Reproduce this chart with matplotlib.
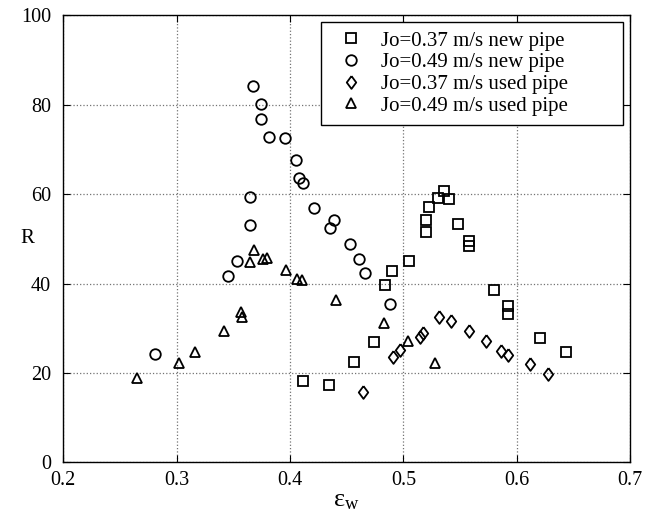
import matplotlib
matplotlib.use("Agg")
import matplotlib.pyplot as plt

# ---- data ----
new37_x = [0.4112, 0.4347, 0.4568, 0.4741, 0.4838, 0.4903, 0.5053, 0.5198, 0.5198, 0.5222,
           0.5306, 0.5356, 0.5406, 0.5486, 0.5580, 0.5580, 0.5800, 0.5927, 0.5927, 0.6204, 0.6433]
new37_R = [18.3, 17.3, 22.5, 26.9, 39.7, 42.8, 45.1, 51.5, 54.3, 57.0,
           59.2, 60.7, 58.9, 53.2, 49.5, 48.3, 38.5, 35.0, 33.2, 27.9, 24.8]

new49_x = [0.2810, 0.3450, 0.3530, 0.3647, 0.3647, 0.3676, 0.3747, 0.3747, 0.3817, 0.3953,
           0.4050, 0.4080, 0.4117, 0.4209, 0.4356, 0.4391, 0.4527, 0.4606, 0.4660, 0.4883]
new49_R = [24.2, 41.7, 45.0, 53.1, 59.4, 84.1, 80.2, 76.7, 72.7, 72.6,
           67.5, 63.6, 62.5, 56.9, 52.3, 54.2, 48.8, 45.4, 42.3, 35.4]

used37_x = [0.4642, 0.4912, 0.4971, 0.5147, 0.5177, 0.5318, 0.5421, 0.5580, 0.5730, 0.5862,
            0.5927, 0.6118, 0.6277]
used37_R = [15.8, 23.5, 25.1, 28.0, 28.9, 32.6, 31.6, 29.3, 27.1, 25.0,
            24.0, 21.9, 19.8]

used49_x = [0.2652, 0.3023, 0.3162, 0.3414, 0.3570, 0.3574, 0.3647, 0.3685, 0.3765, 0.3800,
            0.3962, 0.4065, 0.4103, 0.4406, 0.4832, 0.5045, 0.5283]
used49_R = [18.8, 22.2, 24.7, 29.4, 33.6, 32.6, 44.9, 47.5, 45.4, 45.7,
            43.1, 40.9, 40.8, 36.3, 31.1, 27.2, 22.3]

labels = ["Jo=0.37 m/s new pipe", "Jo=0.49 m/s new pipe",
          "Jo=0.37 m/s used pipe", "Jo=0.49 m/s used pipe"]

plt.rcParams["font.family"] = ["Liberation Serif", "DejaVu Serif"]
plt.rcParams["mathtext.fontset"] = "custom"
plt.rcParams["mathtext.rm"] = "Liberation Serif"

fig = plt.figure(figsize=(6.52, 5.16), dpi=100)
ax = fig.add_axes([0.0972, 0.1037, 0.8691, 0.8672])

# diamond a bit narrower than tall, like the original
diamond = [(0, 1), (0.74, 0), (0, -1), (-0.74, 0), (0, 1)]

common = dict(linestyle="none", markerfacecolor="none", markeredgecolor="black",
              markeredgewidth=1.3)
ax.plot(new37_x, new37_R, marker="s", markersize=6.8, label=labels[0], **common)
ax.plot(new49_x, new49_R, marker="o", markersize=7.6, label=labels[1], **common)
ax.plot(used37_x, used37_R, marker=diamond, markersize=9.2, label=labels[2], **common)
ax.plot(used49_x, used49_R, marker="^", markersize=7.8, label=labels[3], **common)

ax.set_xlim(0.2, 0.7)
ax.set_ylim(0, 100)
ax.set_xticks([0.2, 0.3, 0.4, 0.5, 0.6, 0.7])
ax.set_yticks([0, 20, 40, 60, 80, 100])
ax.set_xticklabels(["0.2", "0.3", "0.4", "0.5", "0.6", "0.7"])
ax.grid(True, linestyle=":", color="0.45", linewidth=0.9)
ax.tick_params(direction="in", top=True, right=True, length=5, width=0.8,
               labelsize=14.5)
ax.tick_params(axis="x", pad=6)
ax.tick_params(axis="y", pad=9)
for s in ax.spines.values():
    s.set_linewidth(1.0)

ax.set_xlabel(r"$\mathregular{ε_w}$", fontsize=19, labelpad=0)
ax.set_ylabel("R", fontsize=15, rotation=0, va="center", ha="center")
ax.yaxis.set_label_coords(-0.064, 0.5)

leg = ax.legend(loc="upper left", bbox_to_anchor=(0.454, 0.768, 0.534, 0.217),
                mode="expand", fontsize=15, frameon=True, fancybox=False,
                edgecolor="black", framealpha=1, borderpad=0.45, labelspacing=0.1,
                handlelength=2.0, handletextpad=0.45, borderaxespad=0)
leg.get_frame().set_linewidth(1.0)

fig.savefig("out.png", dpi=100)
